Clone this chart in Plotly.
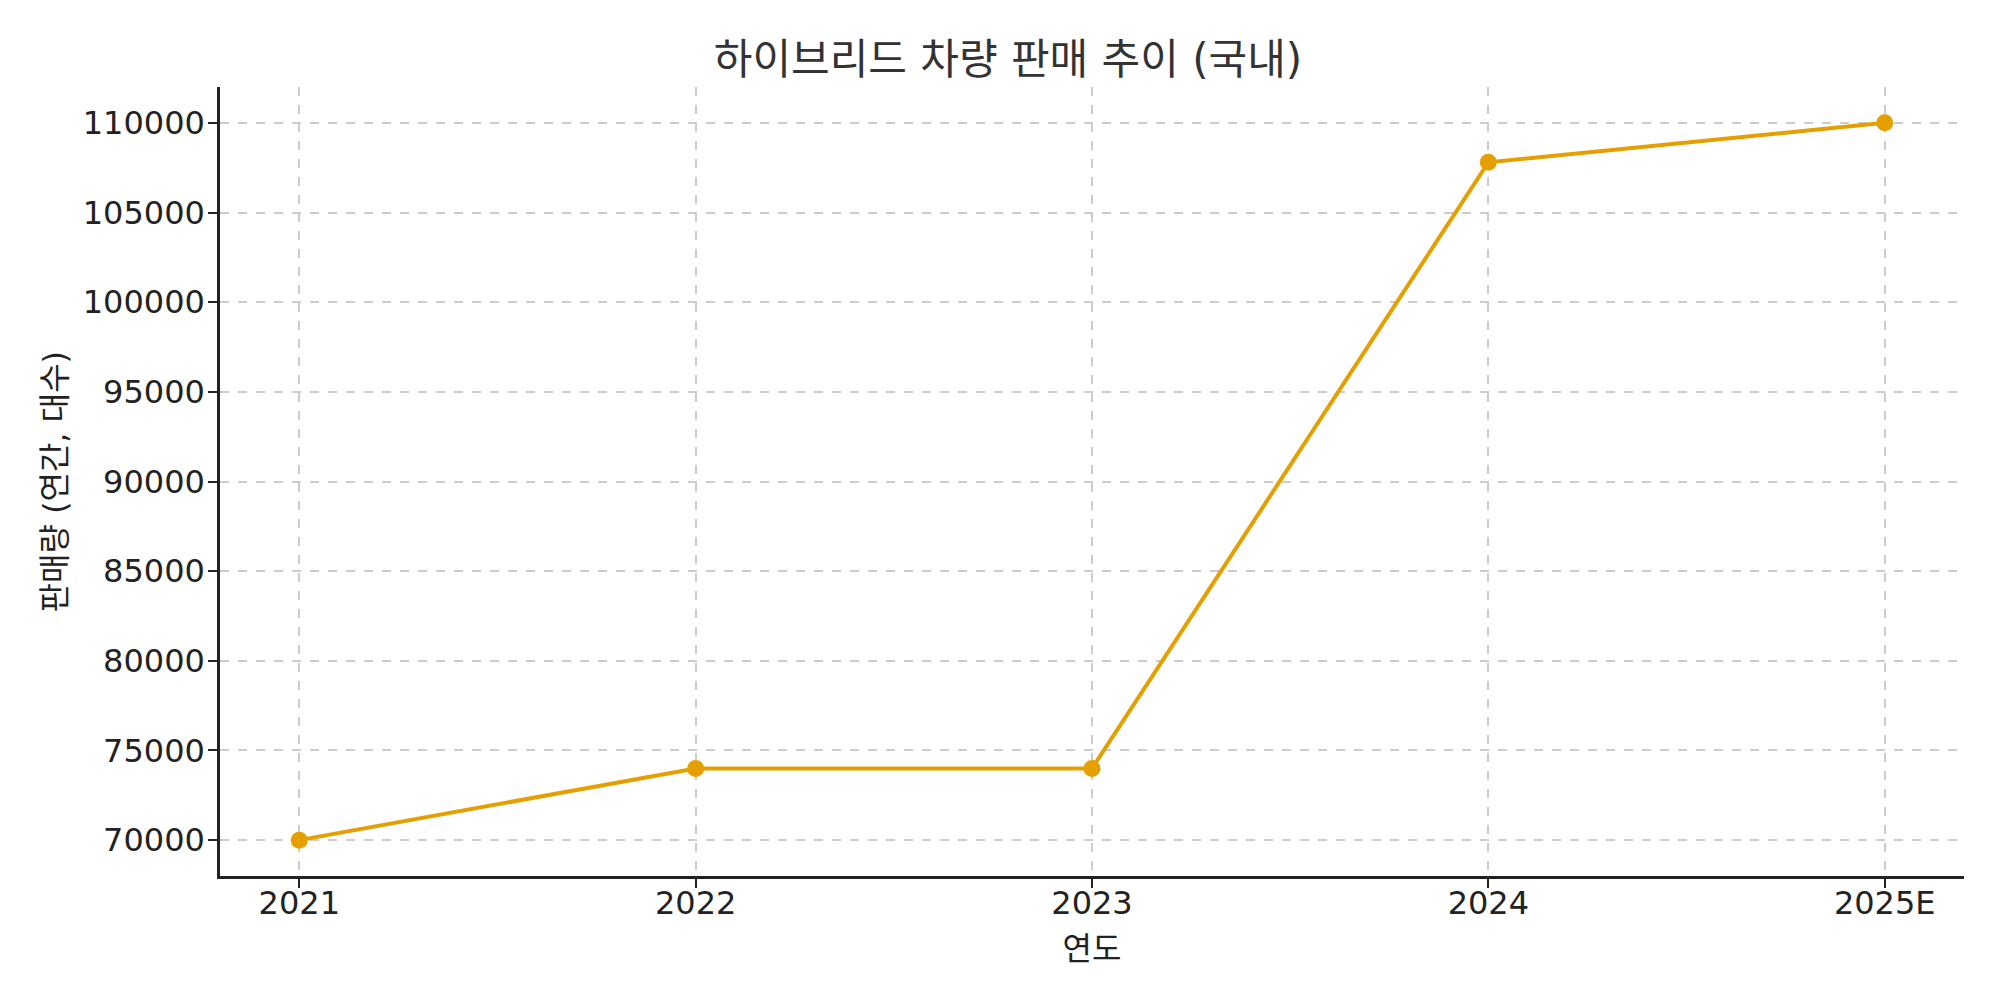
import plotly.graph_objects as go

years = ["2021", "2022", "2023", "2024", "2025E"]
values = [70000, 74000, 74000, 107800, 110000]
y_ticks = [70000, 75000, 80000, 85000, 90000, 95000, 100000, 105000, 110000]

title_text = "하이브리드 차량 판매 추이 (국내)"
x_label = "연도"
y_label = "판매량 (연간, 대수)"

FONT = "DejaVu Sans, Noto Sans CJK KR, sans-serif"
COLOR = "#E69F00"

fig = go.Figure()
fig.add_trace(go.Scatter(
    x=years, y=values, mode="lines+markers",
    line=dict(color=COLOR, width=4),
    marker=dict(color=COLOR, size=17),
    showlegend=False,
))

axis_common = dict(
    showline=True, linecolor="#222222", linewidth=2.5, mirror=False,
    ticks="outside", ticklen=9, tickwidth=2, tickcolor="#222222",
    showgrid=True, gridcolor="#cccccc", gridwidth=1.5, griddash="dash",
    zeroline=False,
    tickfont=dict(family=FONT, size=32, color="#222222"),
)

fig.update_layout(
    width=2000, height=1000,
    paper_bgcolor="white", plot_bgcolor="white",
    margin=dict(l=212, r=44, t=79, b=132),
    title=dict(text=title_text, x=0.5, xanchor="center", y=0.949, yanchor="middle",
               font=dict(family=FONT, size=42, color="#333333")),
    xaxis=dict(type="category", range=[-0.2, 4.2], categoryorder="array", categoryarray=years,
               ticklabelstandoff=-12,
               title=dict(text=x_label, font=dict(family=FONT, size=32, color="#222222"), standoff=17),
               **axis_common),
    yaxis=dict(range=[68000, 112000], tickvals=y_ticks, tickformat="d",
               ticklabelstandoff=-3,
               **axis_common),
    annotations=[dict(
        text=y_label, xref="paper", yref="paper", x=0, y=0.5,
        xanchor="center", yanchor="middle", xshift=-166, textangle=-90,
        showarrow=False, font=dict(family=FONT, size=32, color="#222222"),
    )],
)

fig.write_html("out.html")
